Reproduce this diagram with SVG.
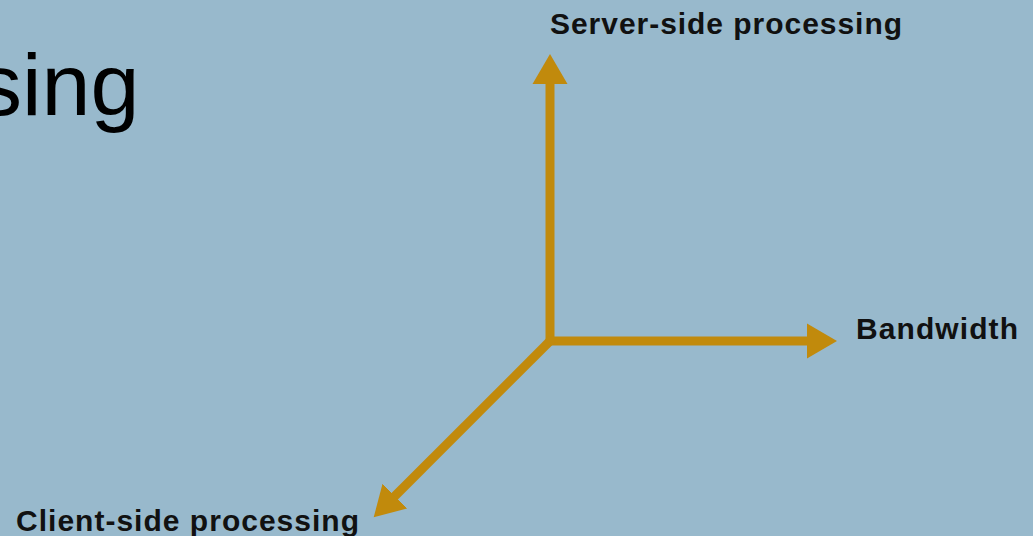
<svg xmlns="http://www.w3.org/2000/svg" width="1033" height="536" viewBox="0 0 1033 536">
  <style>
    .axis { stroke: #c18a0c; stroke-width: 9; fill: none; }
    .label { font-family: "Liberation Sans", Arial, sans-serif; font-weight: bold; font-size: 30px; fill: #111111; }
    .title { font-family: "Liberation Sans", Arial, sans-serif; font-size: 88px; fill: #000000; }
  </style>
  <defs>
    <marker id="head" markerUnits="userSpaceOnUse" markerWidth="32" markerHeight="36" viewBox="0 -18 32 36" refX="1" refY="0" orient="auto">
      <path d="M0,-17.5 L30,0 L0,17.5 Z" fill="#c18a0c"/>
    </marker>
  </defs>
  <rect x="0" y="0" width="1033" height="536" fill="#98b9cc"/>
  <text class="title" x="-22" y="115">sing</text>
  <g id="connectors">
    <line class="axis" x1="550" y1="341" x2="550" y2="83" marker-end="url(#head)"/>
    <line class="axis" x1="546" y1="341" x2="808" y2="341" marker-end="url(#head)"/>
    <line class="axis" x1="552" y1="339" x2="394.2" y2="496.8" marker-end="url(#head)"/>
  </g>
  <g id="server">
    <text class="label" x="550" y="34" textLength="352" lengthAdjust="spacing">Server-side processing</text>
  </g>
  <g id="bandwidth">
    <text class="label" x="856" y="339" textLength="162" lengthAdjust="spacing">Bandwidth</text>
  </g>
  <g id="client">
    <text class="label" x="16" y="531" textLength="343" lengthAdjust="spacing">Client-side processing</text>
  </g>
</svg>
